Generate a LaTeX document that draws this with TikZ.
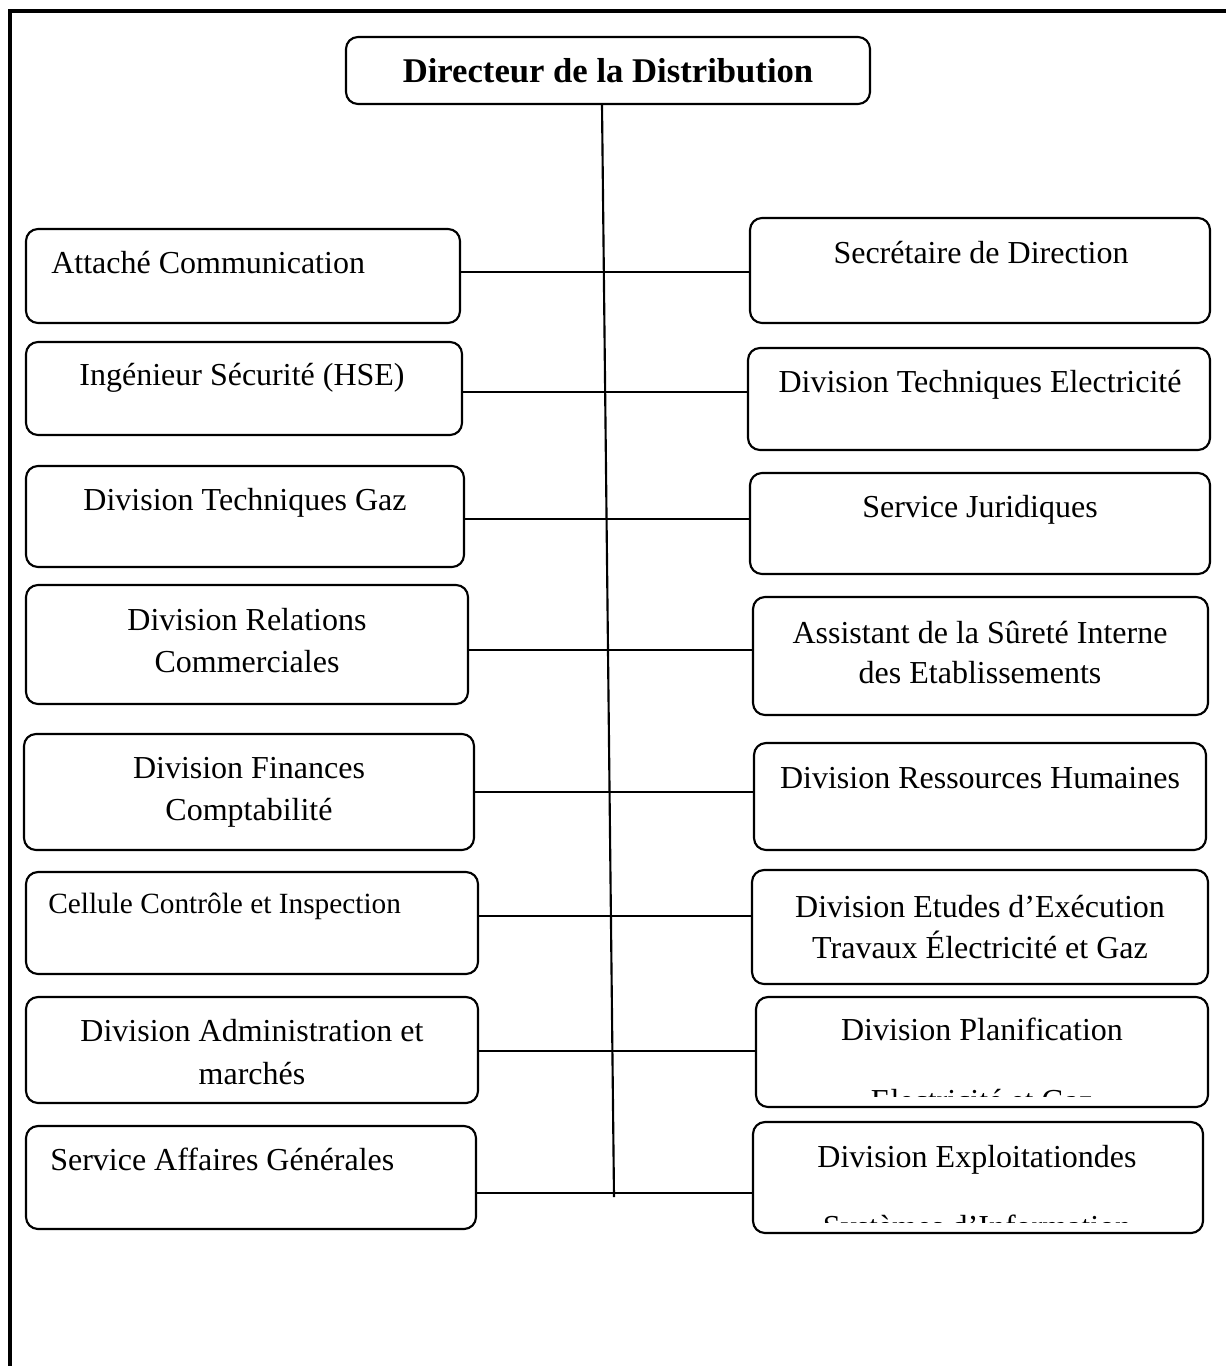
\documentclass[tikz,border=0pt]{standalone}
\usepackage{fontspec}
\setmainfont{Liberation Serif}
\usetikzlibrary{fit}
\begin{document}
\begin{tikzpicture}[x=0.75pt,y=-0.75pt,
  frameline/.style={line width=2.4pt},
  box/.style={draw, line width=1.6pt, rounded corners=9pt, inner sep=0pt},
  link/.style={line width=1.6pt},
  lbl/.style={anchor=base, inner sep=0pt, font=\fontsize{24}{30}\selectfont},
  lbll/.style={lbl, anchor=base west}]
\useasboundingbox (0,0) rectangle (1226,1366);
\fill[white] (0,0) rectangle (1226,1366);

% page frame (top and left edges)
\draw[frameline] (1230,11) -- (10,11) -- (10,1370);

% head of the structure
\node[box, fit={(346,37) (870,104)}] (dir) {};
\node[lbl, font=\bfseries\fontsize{26}{30}\selectfont] (tdir) at (608,83) {Directeur de la Distribution};

% left column
\node[box, fit={(26,229) (460,323)}] (L1) {};
\node[lbll] (tL1) at (51,273) {Attaché Communication};
\node[box, fit={(26,342) (462,435)}] (L2) {};
\node[lbl] (tL2) at (242,385) {Ingénieur Sécurité (HSE)};
\node[box, fit={(26,466) (464,567)}] (L3) {};
\node[lbl] (tL3) at (245,510) {Division Techniques Gaz};
\node[box, fit={(26,585) (468,704)}] (L4) {};
\node[lbl] (tL4a) at (247,630) {Division Relations};
\node[lbl] (tL4b) at (247,672) {Commerciales};
\node[box, fit={(24,734) (474,850)}] (L5) {};
\node[lbl] (tL5a) at (249,778) {Division Finances};
\node[lbl] (tL5b) at (249,820) {Comptabilité};
\node[box, fit={(26,872) (478,974)}] (L6) {};
\node[lbll, font=\fontsize{22}{28}\selectfont] (tL6) at (48,913) {Cellule Contrôle et Inspection};
\node[box, fit={(26,997) (478,1103)}] (L7) {};
\node[lbl] (tL7a) at (252,1041) {Division Administration et};
\node[lbl] (tL7b) at (252,1084) {marchés};
\node[box, fit={(26,1126) (476,1229)}] (L8) {};
\node[lbll] (tL8) at (50,1170) {Service Affaires Générales};

% right column
\node[box, fit={(750,218) (1210,323)}] (R1) {};
\node[lbl] (tR1) at (981,263) {Secrétaire de Direction};
\node[box, fit={(748,348) (1210,450)}] (R2) {};
\node[lbl] (tR2) at (980,392) {Division Techniques Electricité};
\node[box, fit={(750,473) (1210,574)}] (R3) {};
\node[lbl] (tR3) at (980,517) {Service Juridiques};
\node[box, fit={(753,597) (1208,715)}] (R4) {};
\node[lbl] (tR4a) at (980,643) {Assistant de la Sûreté Interne};
\node[lbl] (tR4b) at (980,683) {des Etablissements};
\node[box, fit={(754,743) (1206,850)}] (R5) {};
\node[lbl] (tR5) at (980,788) {Division Ressources Humaines};
\node[box, fit={(752,870) (1208,984)}] (R6) {};
\node[lbl] (tR6a) at (980,917) {Division Etudes d’Exécution};
\node[lbl] (tR6b) at (980,958) {Travaux Électricité et Gaz};
\node[box, fit={(756,997) (1208,1107)}] (R7) {};
\node[lbl] (tR7a) at (982,1040) {Division Planification};
\begin{scope}
  % second line runs past the box and is cut off
  \clip (756,997) rectangle (1208,1096);
  \node[lbl] (tR7b) at (982,1111) {Electricité et Gaz};
\end{scope}
\node[box, fit={(753,1122) (1203,1233)}] (R8) {};
\node[lbl] (tR8a) at (977,1167) {Division Exploitationdes};
\begin{scope}
  \clip (753,1122) rectangle (1203,1222);
  \node[lbl] (tR8b) at (977,1237) {Systèmes d’Information};
\end{scope}

% trunk
\coordinate (trunkend) at (614,1197);
\draw[link] (dir.south -| 602,0) -- (trunkend);

% branches
\draw[link] (L1.east |- 0,272)  -- (R1.west |- 0,272);
\draw[link] (L2.east |- 0,392)  -- (R2.west |- 0,392);
\draw[link] (L3.east |- 0,519)  -- (R3.west |- 0,519);
\draw[link] (L4.east |- 0,650)  -- (R4.west |- 0,650);
\draw[link] (L5.east |- 0,792)  -- (R5.west |- 0,792);
\draw[link] (L6.east |- 0,916)  -- (R6.west |- 0,916);
\draw[link] (L7.east |- 0,1051) -- (R7.west |- 0,1051);
\draw[link] (L8.east |- 0,1193) -- (R8.west |- 0,1193);
\end{tikzpicture}
\end{document}
